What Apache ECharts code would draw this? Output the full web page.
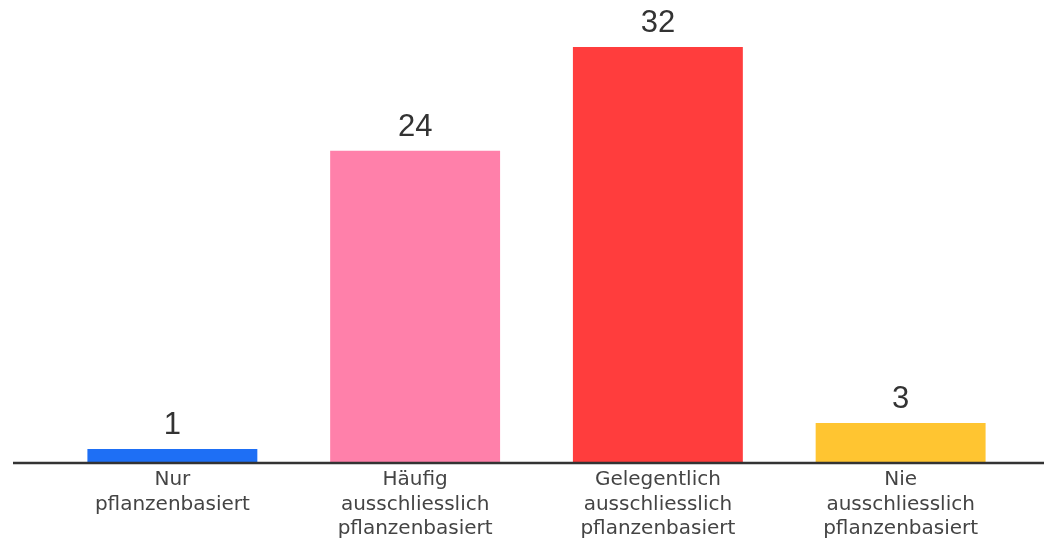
<!DOCTYPE html>
<html>
<head>
<meta charset="utf-8">
<script src="https://cdn.jsdelivr.net/npm/echarts@6/dist/echarts.min.js"></script>
<style>
html,body{margin:0;padding:0;background:#fff;}
#c{width:1044px;height:545px;}
</style>
</head>
<body>
<div id="c"></div>
<script>
var categories = ["Nur\npflanzenbasiert", "Häufig\nausschliesslich\npflanzenbasiert", "Gelegentlich\nausschliesslich\npflanzenbasiert", "Nie\nausschliesslich\npflanzenbasiert"];
var values = [1, 24, 32, 3];
var colors = ["#1E6FF5", "#FF80AA", "#FF3D3D", "#FFC531"];

var chart = echarts.init(document.getElementById('c'));
chart.setOption({
  animation: false,
  grid: { left: 51, right: 22, top: 47, bottom: 83 },
  xAxis: {
    type: 'category',
    data: categories,
    axisLine: { show: false },
    axisTick: { show: false },
    axisLabel: {
      color: '#444',
      fontFamily: 'DejaVu Sans',
      fontSize: 20,
      lineHeight: 24.5,
      margin: 6,
      interval: 0
    }
  },
  yAxis: { type: 'value', min: 0, max: 32, show: false, splitLine: { show: false } },
  series: [{
    type: 'bar',
    barWidth: '70%',
    data: values.map(function (v, i) { return { value: v, itemStyle: { color: colors[i] } }; }),
    label: {
      show: true,
      position: 'top',
      distance: 8,
      color: '#333',
      fontFamily: 'Liberation Sans',
      fontSize: 31
    }
  }]
});
var y0 = chart.convertToPixel({ yAxisIndex: 0 }, 0);
chart.setOption({
  graphic: [{
    type: 'line',
    shape: { x1: 13, y1: y0 + 1, x2: 1044, y2: y0 + 1 },
    style: { stroke: '#333', lineWidth: 2.5 },
    z: 10
  }]
});
</script>
</body>
</html>
